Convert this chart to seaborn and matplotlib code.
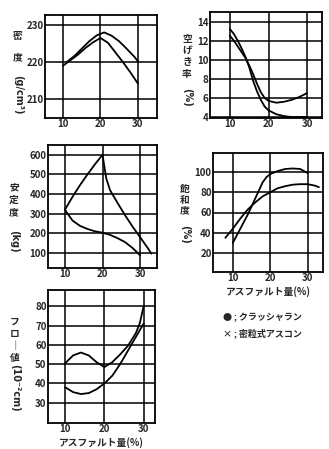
import numpy as np
import pandas as pd
import matplotlib
matplotlib.use("Agg")
import matplotlib.pyplot as plt
import seaborn as sns

# Density (g/cm3)
dens_x_a = [10, 12, 14, 16, 18, 20, 22, 24, 26, 28, 30]
dens_y_a = [219.0, 220.5, 222.0, 223.8, 225.3, 226.5, 225.2, 222.6, 220.0, 217.2, 214.2]
dens_x_b = [11, 13, 15, 17, 19, 21, 23, 25, 27, 29, 30]
dens_y_b = [220.0, 221.6, 223.6, 225.6, 227.2, 228.0, 227.1, 225.6, 223.6, 221.5, 220.2]

# Air voids (%)
void_x_a = [10, 11, 12, 13, 14, 15, 16, 17, 18, 19, 20, 22, 24, 26, 28, 30]
void_y_a = [13.2, 12.7, 12.0, 11.2, 10.3, 9.2, 7.8, 6.7, 5.8, 5.1, 4.7, 4.3, 4.1, 4.0, 4.0, 4.0]
void_x_b = [10, 11, 12, 13, 14, 15, 16, 17, 18, 19, 20, 22, 24, 26, 28, 30]
void_y_b = [12.5, 12.0, 11.4, 10.8, 10.2, 9.4, 8.5, 7.5, 6.6, 6.0, 5.7, 5.5, 5.6, 5.8, 6.1, 6.5]

# Stability (kg)
stab_x_a = [10, 12, 14, 16, 18, 20, 20.5, 21, 22, 24, 26, 28, 30, 32, 33]
stab_y_a = [320, 385, 445, 500, 552, 600, 540, 480, 420, 355, 292, 234, 180, 126, 96]
stab_x_b = [10, 12, 14, 16, 18, 20, 22, 24, 26, 28, 30]
stab_y_b = [320, 265, 238, 222, 210, 203, 192, 175, 155, 125, 88]

# Saturation (%)
sat_x_a = [10, 12, 14, 16, 18, 19, 20, 22, 24, 26, 28, 30]
sat_y_a = [30, 44, 58, 74, 90, 95, 98, 101, 103, 103.5, 103, 99]
sat_x_b = [8, 10, 12, 14, 16, 18, 20, 22, 24, 26, 28, 30, 32, 33]
sat_y_b = [35, 44, 54, 63, 70, 76, 80, 84, 86, 87.5, 88, 88, 86.5, 85]

# Flow (1/100 cm)
flow_x_a = [10, 12, 14, 16, 18, 20, 22, 24, 26, 28, 29, 30]
flow_y_a = [50.5, 54.5, 56.0, 54.5, 51.0, 48.5, 51.0, 55.0, 59.5, 66.0, 71.0, 80.0]
flow_x_b = [10, 12, 14, 16, 18, 20, 22, 24, 26, 28, 30]
flow_y_b = [38.0, 35.5, 34.5, 35.0, 37.0, 40.0, 44.0, 50.0, 57.0, 64.0, 71.0]

W, H = 329, 449
sns.set_theme(style="white")
plt.rcParams['font.family'] = ['Noto Sans CJK JP', 'DejaVu Sans']

fig = plt.figure(figsize=(W / 100, H / 100), dpi=100)


def make_ax(left, right, top, bottom):
    ax = fig.add_axes([left / W, 1 - bottom / H, (right - left) / W, (bottom - top) / H])
    for s in ax.spines.values():
        s.set_color('black')
        s.set_linewidth(1.3)
    ax.grid(True, color='black', lw=1.1)
    ax.tick_params(length=0, pad=1, labelsize=7)
    return ax


def curves(ax, xa, ya, xb, yb):
    for xs, ys in [(xa, ya), (xb, yb)]:
        df = pd.DataFrame({'x': xs, 'y': ys})
        sns.lineplot(data=df, x='x', y='y', sort=False, estimator=None,
                     color='black', lw=1.3, ax=ax)
    ax.set_xlabel('')
    ax.set_ylabel('')


def vlabel(x, y_top, chars, spacing, unit, y_unit):
    fig.text(x / W, 1 - y_top / H, "\n".join(chars), ha='center', va='top',
             linespacing=spacing, fontsize=7, fontweight='bold')
    fig.text(x / W, 1 - y_unit / H, unit, rotation=270, ha='center', va='top',
             fontsize=7, fontweight='bold', family='DejaVu Sans')


# density
ax1 = make_ax(45, 157, 15, 118)
curves(ax1, dens_x_a, dens_y_a, dens_x_b, dens_y_b)
ax1.set_xlim(5.2, 35.1)
ax1.set_ylim(204.9, 232.7)
ax1.set_xticks([10, 20, 30])
ax1.set_yticks([210, 220, 230])
vlabel(18, 31, "密度", 2.4, "(g/cm³)", 75)

# voids
ax2 = make_ax(210, 322, 12, 118)
curves(ax2, void_x_a, void_y_a, void_x_b, void_y_b)
ax2.set_xlim(4.8, 33.9)
ax2.set_ylim(3.9, 15.0)
ax2.set_xticks([10, 20, 30])
ax2.set_yticks([4, 6, 8, 10, 12, 14])
vlabel(187, 34, "空げき率", 1.2, "(%)", 88)

# stability
ax3 = make_ax(48, 157, 145, 268)
curves(ax3, stab_x_a, stab_y_a, stab_x_b, stab_y_b)
ax3.set_xlim(5.5, 34.5)
ax3.set_ylim(23, 650)
ax3.set_xticks([10, 20, 30])
ax3.set_yticks([100, 200, 300, 400, 500, 600])
vlabel(14, 182, "安定度", 1.35, "(kg)", 230)

# saturation
ax4 = make_ax(213, 323, 153, 272)
curves(ax4, sat_x_a, sat_y_a, sat_x_b, sat_y_b)
ax4.set_xlim(4.7, 34.1)
ax4.set_ylim(1.2, 118.8)
ax4.set_xticks([10, 20, 30])
ax4.set_yticks([20, 40, 60, 80, 100])
ax4.set_xlabel('アスファルト量(%)', fontsize=7, fontweight='bold', labelpad=2)
vlabel(185, 184, "飽和度", 1.1, "(%)", 225)

# flow
ax5 = make_ax(48, 155, 290, 423)
curves(ax5, flow_x_a, flow_y_a, flow_x_b, flow_y_b)
ax5.set_xlim(5.6, 32.9)
ax5.set_ylim(19.5, 88.4)
ax5.set_xticks([10, 20, 30])
ax5.set_yticks([30, 40, 50, 60, 70, 80])
ax5.set_xlabel('アスファルト量(%)', fontsize=7, fontweight='bold', labelpad=2)
vlabel(15, 317, "フロ｜値", 1.25, "(10⁻²cm)", 364)

for ax in [ax1, ax2, ax3, ax4, ax5]:
    for lab in ax.get_xticklabels() + ax.get_yticklabels():
        lab.set_fontweight('bold')
        lab.set_fontsize(7)

# legend text
fig.text(223 / W, 1 - 317 / H, "● ; クラッシャラン", fontsize=6.5, fontweight='bold',
         va='center', ha='left')
fig.text(223 / W, 1 - 333 / H, "× ; 密粒式アスコン", fontsize=6.5, fontweight='bold',
         va='center', ha='left')

fig.savefig("out.png", dpi=100)
